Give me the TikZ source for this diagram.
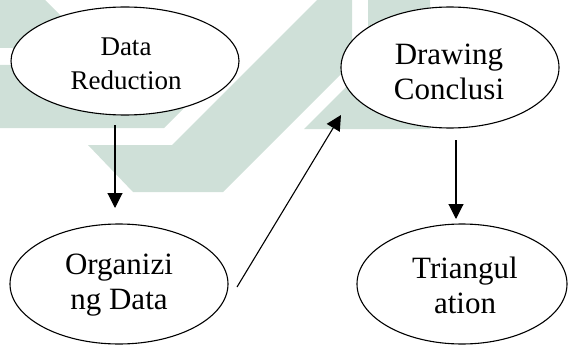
\documentclass[tikz,border=0pt]{standalone}
\usepackage{fontspec}
\setmainfont{Liberation Serif}
\usetikzlibrary{shapes.geometric,arrows.meta}
\definecolor{wm}{RGB}{207,224,216}
\tikzset{
  stage/.style={ellipse, draw=black, line width=1.1pt, fill=white, inner sep=0pt},
  caption/.style={inner sep=0pt, align=center, font=\fontsize{31}{35}\selectfont},
  flow/.style={line width=1.1pt, -{Triangle[length=15pt,width=15pt]}},
  mark shape/.style={fill=wm, draw=none}
}
\begin{document}
\begin{tikzpicture}[x=1pt,y=-1pt]
\useasboundingbox (0,0) rectangle (568,345);
% light background emblem
\fill[mark shape] (0,0) -- (45,0) -- (93,48) -- (0,48) -- cycle;
\fill[mark shape] (0,65) -- (227,65) -- (164,128) -- (0,128) -- cycle;
\fill[mark shape] (317,0) -- (352,0) -- (352,63) -- (223,192) -- (133,192)
                  -- (88,145) -- (172,145) -- cycle;
\fill[mark shape] (368,0) -- (430,0) -- (430,129) -- (304,129) -- (368,65) -- cycle;
% stages
\node[stage, minimum width=228pt, minimum height=108pt] (e1) at (125,61) {};
\node[stage, minimum width=218pt, minimum height=121pt] (e2) at (450,67.5) {};
\node[stage, minimum width=218pt, minimum height=120pt] (e3) at (119,284) {};
\node[stage, minimum width=210pt, minimum height=120pt] (e4) at (462,284) {};
\node[caption, font=\fontsize{27}{34}\selectfont] (t1) at (126,63.5) {Data\\Reduction};
\node[caption] (t2) at (449,72) {Drawing\\Conclusi};
\node[caption] (t3) at (119,285) {Organizi\\ng Data};
\node[caption] (t4) at (465,285) {Triangul\\ation};
% connector ends
\coordinate (a1s) at (115,125);
\coordinate (a1e) at (115,208);
\coordinate (a2s) at (237,287);
\coordinate (a2e) at (341,115);
\coordinate (a3s) at (456,140);
\coordinate (a3e) at (456,219);
\draw[flow] (a1s) -- (a1e);
\draw[flow] (a2s) -- (a2e);
\draw[flow] (a3s) -- (a3e);
\end{tikzpicture}
\end{document}
